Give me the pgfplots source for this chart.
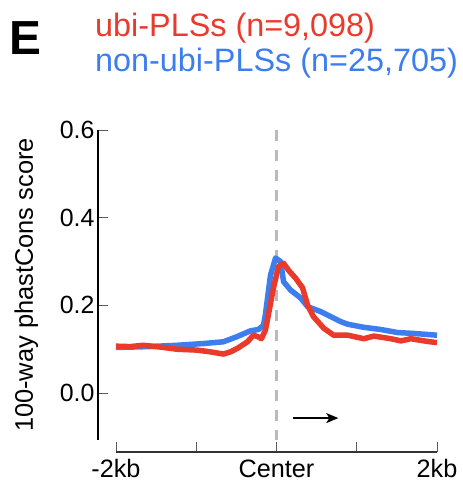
\documentclass[border=0pt]{standalone}
\usepackage{fontspec}
\setmainfont{Liberation Sans}
\usepackage{pgfplots}
\pgfplotsset{compat=1.18}
\usetikzlibrary{arrows.meta}
\definecolor{ubired}{RGB}{233,58,44}
\definecolor{nonblue}{RGB}{60,126,240}
\begin{document}
\begin{tikzpicture}
\useasboundingbox (-98bp,-51bp) rectangle (365bp,440bp);
\begin{axis}[name=main, at={(0,0)}, anchor=south west, scale only axis,
  width=339bp, height=310bp,
  xmin=-2225, xmax=2000, ymin=-0.107, ymax=0.6, clip=false,
  axis x line=none, axis y line*=left,
  y axis line style={-, line width=2bp, black},
  ytick={0,0.2,0.4,0.6}, yticklabels={0.0,0.2,0.4,0.6},
  tick align=inside, major tick length=10bp,
  ytick style={line width=0.8bp, black!65},
  /pgf/number format/assume math mode=true,
  yticklabel style={font=\fontsize{25}{25}\selectfont},
  ylabel={100-way phastCons score},
  ylabel style={font=\fontsize{25.5}{26}\selectfont, at={(axis description cs:-0.192,0.5)}, anchor=base},
]
\draw[black!27, line width=2.5bp, dash pattern=on 11bp off 9bp] (axis cs:0,0.6) -- (axis cs:0,-0.107);
\addplot[nonblue, line width=5.5bp, line join=round] coordinates {
(-2000,0.104) (-1600,0.106) (-1238,0.109) (-912,0.113) (-662,0.117) (-488,0.129)
(-325,0.142) (-225,0.145) (-162,0.155) (-138,0.18) (-75,0.269) (-12,0.308)
(50,0.30) (88,0.254) (175,0.235) (300,0.217) (388,0.197) (550,0.186)
(800,0.163) (888,0.157) (1088,0.15) (1300,0.145) (1512,0.138) (1712,0.136) (2000,0.132)
};
\addplot[ubired, line width=5.5bp, line join=round] coordinates {
(-2000,0.107) (-1825,0.106) (-1662,0.109) (-1450,0.105) (-1238,0.100) (-988,0.098)
(-825,0.094) (-662,0.089) (-575,0.094) (-488,0.102) (-362,0.117) (-288,0.132)
(-225,0.128) (-188,0.124) (-138,0.144) (-100,0.18) (-38,0.24) (25,0.289)
(88,0.296) (150,0.28) (238,0.262) (325,0.24) (388,0.2) (462,0.174)
(588,0.148) (712,0.132) (888,0.132) (1088,0.124) (1212,0.13) (1425,0.124)
(1550,0.119) (1675,0.124) (1838,0.119) (2000,0.115)
};
\draw[-{Stealth[length=12bp,width=10bp,inset=3bp]}, line width=1.5bp] (axis cs:200,-0.057) -- (axis cs:770,-0.057);
\end{axis}
\begin{axis}[at={(18bp,-12bp)}, anchor=south west, scale only axis,
  width=321bp, height=50bp,
  xmin=-2000, xmax=2000, ymin=0, ymax=1,
  axis y line=none, axis x line*=bottom,
  x axis line style={-, line width=1.5bp, black!80},
  xtick={-2000,-1000,0,1000,2000}, xticklabels={-2kb,,Center,,2kb},
  tick align=inside, major tick length=10bp,
  xtick style={line width=0.8bp, black!65},
  /pgf/number format/assume math mode=true,
  xticklabel style={font=\fontsize{25.3}{25}\selectfont, yshift=-4bp},
]
\end{axis}
\node[anchor=base west, inner sep=0, font=\bfseries\fontsize{48}{48}\selectfont] at (-89bp,385bp) {E};
\node[anchor=base west, inner sep=0, text=ubired, font=\fontsize{32.5}{32}\selectfont] at (-3bp,403bp) {ubi-PLSs (n=9,098)};
\node[anchor=base west, inner sep=0, text=nonblue, font=\fontsize{32.5}{32}\selectfont] at (-3bp,368bp) {non-ubi-PLSs (n=25,705)};
\end{tikzpicture}
\end{document}
